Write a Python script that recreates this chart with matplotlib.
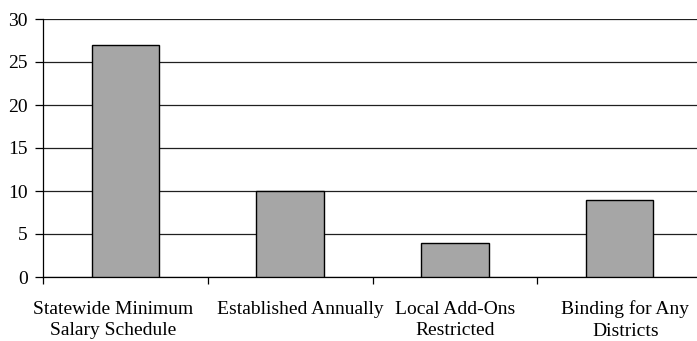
import matplotlib.pyplot as plt
import matplotlib.transforms as mtransforms
import numpy as np

plt.rcParams['font.family'] = ['Liberation Serif', 'DejaVu Serif']

# categories and counts
categories = ["Statewide Minimum\nSalary Schedule", "Established Annually",
              "Local Add-Ons\nRestricted", "Binding for Any\nDistricts"]
counts = [27, 10, 4, 9]
y_ticks = [0, 5, 10, 15, 20, 25, 30]

fig = plt.figure(figsize=(6.97, 3.41), dpi=100)
ax = fig.add_axes([43.2 / 697, 1 - 277 / 341, (702 - 43.2) / 697, (277 - 19) / 341])

x = np.arange(len(categories))
ax.bar(x, counts, width=0.41, color='#a6a6a6', edgecolor='black', linewidth=1.0, zorder=3)

ax.set_ylim(0, 30)
ax.set_yticks(y_ticks)
ax.yaxis.grid(True, color='#202020', linewidth=0.9, zorder=0)
ax.set_xlim(-0.5, len(categories) - 0.5)

# tick marks between categories, labels under bars
ax.set_xticks(np.arange(len(categories) + 1) - 0.5)
ax.set_xticklabels([])
ax.set_xticks(x, minor=True)
ax.set_xticklabels(categories, minor=True, fontsize=14, linespacing=1.35)
ax.tick_params(axis='x', which='minor', length=0, pad=17)
ax.tick_params(axis='x', which='major', length=5, width=0.9, direction='out')
ax.tick_params(axis='y', length=6, width=0.9, labelsize=14, pad=5)

# nudge wrapped labels sideways a little (points)
shifts = [-9, 7, 0, 4]
for lbl, dx in zip(ax.get_xticklabels(minor=True), shifts):
    lbl.set_transform(lbl.get_transform() + mtransforms.ScaledTranslation(dx / 72, 0, fig.dpi_scale_trans))

for side in ['top', 'right']:
    ax.spines[side].set_visible(False)
for side in ['left', 'bottom']:
    ax.spines[side].set_linewidth(0.9)

plt.savefig("out.png", dpi=100)
